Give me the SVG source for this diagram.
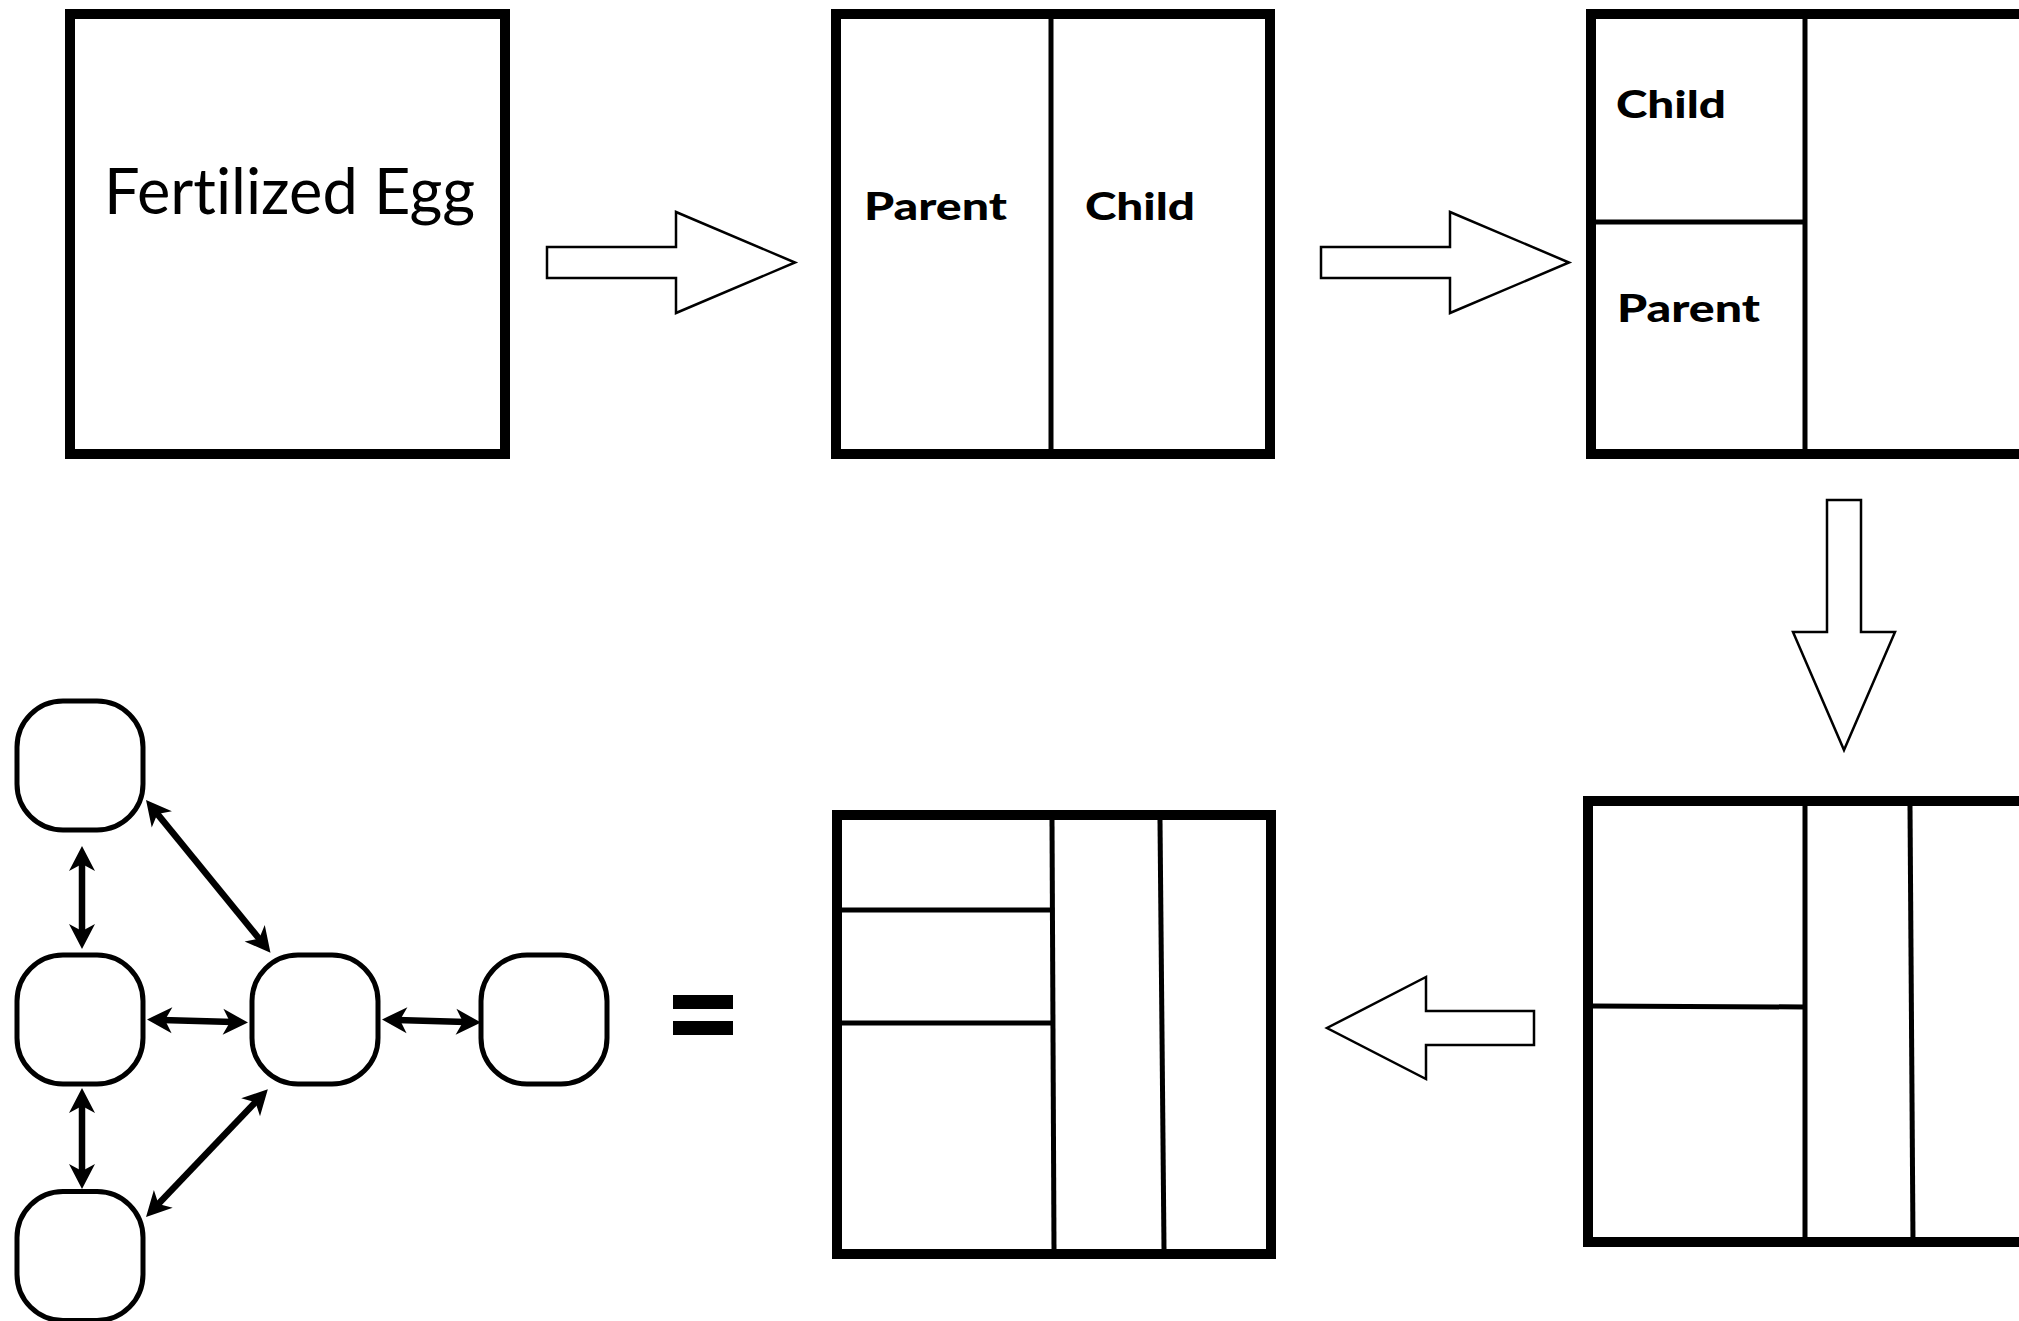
<svg xmlns="http://www.w3.org/2000/svg" width="2019" height="1321" viewBox="0 0 2019 1321">
<style>
.frame{fill:#fff;stroke:#000;stroke-width:10}
.div{stroke:#000;stroke-width:5;fill:none}
.bigarrow{fill:#fff;stroke:#000;stroke-width:2.5;stroke-linejoin:miter}
.node{fill:#fff;stroke:#000;stroke-width:5}
.conn{stroke:#000;stroke-width:6.5;fill:none}
.lbl{font-family:Lato,"Open Sans","Liberation Sans",sans-serif;fill:#000;font-variant-ligatures:none}
.bold{font-weight:900;font-size:38px}
</style>
<defs>
<marker id="ah" markerUnits="userSpaceOnUse" markerWidth="40" markerHeight="40" viewBox="-20 -20 40 40" refX="0" refY="0" orient="auto-start-reverse">
<path d="M15,0 L-10,-13 L-3,0 L-10,13 Z" fill="#000"/>
</marker>
</defs>
<rect width="2019" height="1321" fill="#fff"/>

<g id="egg">
<rect class="frame" x="70" y="14" width="435" height="440"/>
<text class="lbl" x="104" y="214" font-size="64" textLength="371" lengthAdjust="spacingAndGlyphs">Fertilized Egg</text>
</g>

<g id="stage2">
<rect class="frame" x="836" y="14" width="434" height="440"/>
<line class="div" x1="1051" y1="19" x2="1051" y2="449"/>
<text class="lbl bold" x="864" y="220" textLength="143" lengthAdjust="spacingAndGlyphs">Parent</text>
<text class="lbl bold" x="1085" y="220" textLength="110" lengthAdjust="spacingAndGlyphs">Child</text>
</g>

<g id="stage3">
<rect class="frame" x="1591" y="14" width="440" height="440"/>
<line class="div" x1="1805" y1="19" x2="1805" y2="449"/>
<line class="div" x1="1596" y1="222" x2="1805" y2="222"/>
<text class="lbl bold" x="1616" y="118" textLength="110" lengthAdjust="spacingAndGlyphs">Child</text>
<text class="lbl bold" x="1617" y="322" textLength="143" lengthAdjust="spacingAndGlyphs">Parent</text>
</g>

<g id="stage4">
<rect class="frame" x="1588" y="801" width="440" height="441"/>
<line class="div" x1="1805" y1="806" x2="1805" y2="1242"/>
<line class="div" x1="1910" y1="806" x2="1913" y2="1242"/>
<line class="div" x1="1593" y1="1006" x2="1805" y2="1007"/>
</g>

<g id="stage5">
<rect class="frame" x="837" y="815" width="434" height="439"/>
<line class="div" x1="1052" y1="820" x2="1054" y2="1249"/>
<line class="div" x1="1160" y1="820" x2="1164" y2="1249"/>
<line class="div" x1="842" y1="910" x2="1053" y2="910"/>
<line class="div" x1="842" y1="1023" x2="1053" y2="1023"/>
</g>

<g id="flow-arrows">
<polygon class="bigarrow" points="547,247 676,247 676,212 795,262.5 676,313 676,278 547,278"/>
<polygon class="bigarrow" points="1321,247 1450,247 1450,212 1569,262.5 1450,313 1450,278 1321,278"/>
<polygon class="bigarrow" points="1827,500 1861,500 1861,632 1895,632 1844,750 1793,632 1827,632"/>
<polygon class="bigarrow" points="1534,1011 1426,1011 1426,977 1327,1028 1426,1079 1426,1045 1534,1045"/>
</g>

<g id="node-a"><rect class="node" x="17" y="701" width="126" height="129" rx="46" ry="46"/></g>
<g id="node-b"><rect class="node" x="17" y="955" width="126" height="129" rx="46" ry="46"/></g>
<g id="node-c"><rect class="node" x="17" y="1191.5" width="126" height="129" rx="46" ry="46"/></g>
<g id="node-d"><rect class="node" x="252" y="955" width="126" height="129" rx="46" ry="46"/></g>
<g id="node-e"><rect class="node" x="481" y="955" width="126" height="129" rx="46" ry="46"/></g>

<g id="connectors">
<line class="conn" x1="82" y1="861" x2="82" y2="934" marker-start="url(#ah)" marker-end="url(#ah)"/>
<line class="conn" x1="82" y1="1103" x2="82" y2="1174" marker-start="url(#ah)" marker-end="url(#ah)"/>
<line class="conn" x1="155.5" y1="811.6" x2="261" y2="941" marker-start="url(#ah)" marker-end="url(#ah)"/>
<line class="conn" x1="156.4" y1="1206.1" x2="257.5" y2="1100" marker-start="url(#ah)" marker-end="url(#ah)"/>
<line class="conn" x1="162" y1="1019.9" x2="233" y2="1022.1" marker-start="url(#ah)" marker-end="url(#ah)"/>
<line class="conn" x1="397" y1="1019.9" x2="466" y2="1022.1" marker-start="url(#ah)" marker-end="url(#ah)"/>
</g>

<g id="equals">
<rect x="673" y="995" width="60" height="14" fill="#000"/>
<rect x="673" y="1021" width="60" height="14" fill="#000"/>
</g>
</svg>
